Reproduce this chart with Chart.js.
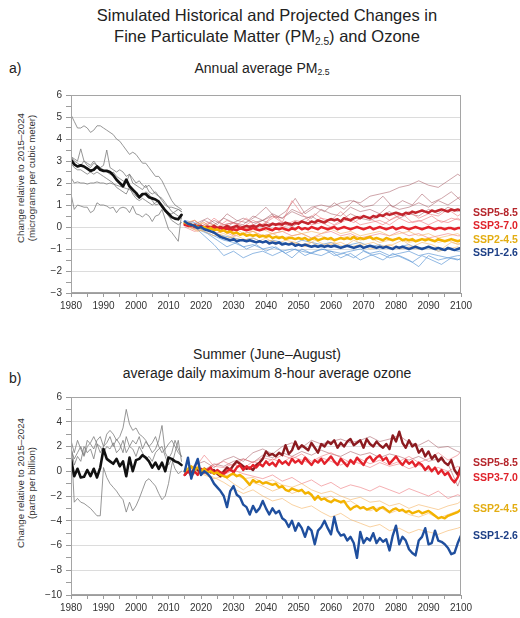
<!DOCTYPE html>
<html><head><meta charset="utf-8">
<script src="https://cdn.jsdelivr.net/npm/chart.js@4"></script>
<style>
body{margin:0;background:#fff;width:520px;height:618px;position:relative;overflow:hidden;font-family:"Liberation Sans",Arial,Helvetica,sans-serif;color:#222}
.t{position:absolute;white-space:nowrap}
.c{transform:translate(-50%,-50%);text-align:center}
.sub{font-size:0.62em;vertical-align:-0.28em;line-height:0}
.yt{position:absolute;white-space:nowrap;transform:translate(-50%,-50%) rotate(-90deg);text-align:center;font-size:9.7px;line-height:11px;color:#333}
.lab{position:absolute;font-weight:bold;font-size:10.5px;line-height:12px;transform:translateY(-50%);white-space:nowrap}
.panel{position:absolute;left:0;width:520px;height:231px}
</style></head><body>
<div class="t c" style="left:267px;top:26px;font-size:16.5px;line-height:21px">Simulated Historical and Projected Changes in<br>Fine Particulate Matter (PM<span class="sub">2.5</span>) and Ozone</div>
<div class="t" style="left:9px;top:59px;font-size:14px;line-height:18px">a)</div>
<div class="t c" style="left:262px;top:68px;font-size:14px;line-height:18px">Annual average PM<span class="sub">2.5</span></div>
<div class="yt" style="left:26px;top:178px">Change relative to 2015–2024<br>(micrograms per cubic meter)</div>
<div class="panel" style="top:85px"><canvas id="ca" width="520" height="231"></canvas></div>
<div class="t" style="left:9px;top:369px;font-size:14px;line-height:18px">b)</div>
<div class="t c" style="left:267px;top:364px;font-size:14px;line-height:19px">Summer (June–August)<br>average daily maximum 8-hour average ozone</div>
<div class="yt" style="left:26px;top:483px">Change relative to 2015–2024<br>(parts per billion)</div>
<div class="panel" style="top:387px"><canvas id="cb" width="520" height="231"></canvas></div>
<div class="lab" style="left:473px;top:212px;color:#b5262c">SSP5-8.5</div>
<div class="lab" style="left:473px;top:225px;color:#e0232b">SSP3-7.0</div>
<div class="lab" style="left:473px;top:239px;color:#e3ad12">SSP2-4.5</div>
<div class="lab" style="left:473px;top:252px;color:#1d3f86">SSP1-2.6</div>
<div class="lab" style="left:473px;top:462px;color:#b5262c">SSP5-8.5</div>
<div class="lab" style="left:473px;top:477px;color:#e0232b">SSP3-7.0</div>
<div class="lab" style="left:473px;top:508px;color:#e3ad12">SSP2-4.5</div>
<div class="lab" style="left:473px;top:535px;color:#1d3f86">SSP1-2.6</div>
<script>
// ---------- years ----------
const histYears = Array.from({length: 35}, (_, i) => 1980 + i);
const futYears = Array.from({length: 86}, (_, i) => 2015 + i);
const thinYears = [2015,2018,2021,2024,2027,2030,2033,2036,2039,2042,2045,2048,2051,2054,2057,2060,2063,2066,2069,2072,2075,2078,2081,2084,2087,2090,2093,2096,2099,2100];
const thinYears2 = [2016,2019,2022,2025,2028,2031,2034,2037,2040,2043,2046,2049,2052,2055,2058,2061,2064,2067,2070,2073,2076,2079,2082,2085,2088,2091,2094,2097,2100];

// ---------- panel a: PM2.5 ----------
const pmHistMean = [3.05,2.85,2.75,2.8,2.75,2.65,2.55,2.6,2.75,2.6,
  2.55,2.55,2.5,2.35,2.15,2.0,1.85,2.15,1.85,1.7,
  1.55,1.35,1.5,1.5,1.35,1.3,1.25,1.15,0.95,0.75,
  0.6,0.45,0.38,0.35,0.55];
const pmHist1 = [5.1,4.8,4.5,4.5,4.6,4.5,4.3,4.4,4.6,4.6,4.5,4.4,4.3,4.2,4.0,3.9,3.7,3.5,3.3,3.4,3.3,3.1,2.9,2.9,2.7,2.5,2.3,2.3,2.1,1.8,1.5,1.2,1.0,0.9,0.8];
const pmHist2 = [3.2,3.1,3.0,3.55,3.0,2.9,2.8,3.0,2.8,2.7,2.8,3.5,2.7,2.6,2.5,2.6,2.5,2.3,2.4,2.2,2.0,2.1,1.9,1.8,1.9,1.7,1.5,1.4,1.2,1.0,0.9,0.9,0.85,0.8,0.7];
const pmHist3 = [2.25,2.0,2.05,2.0,2.0,1.95,2.0,2.0,2.05,2.0,2.0,1.95,2.0,1.95,1.9,1.85,1.8,1.75,1.7,1.6,1.4,1.3,1.4,1.6,1.5,1.2,1.0,1.05,0.95,0.8,0.6,0.6,0.7,0.8,0.7];
const pmHist4 = [1.5,0.8,1.0,0.95,0.9,0.9,0.65,0.75,1.1,1.0,1.0,0.95,0.85,0.9,0.65,0.85,0.9,0.85,0.65,0.95,0.6,0.55,0.45,0.6,0.5,0.25,0.5,0.55,0.8,0.35,-0.1,-0.25,-0.45,-0.65,0.55];
const pmHist5 = [3.2,3.0,2.9,2.8,3.0,2.8,2.7,2.9,2.8,2.7,2.6,2.5,2.4,2.5,2.3,2.2,2.1,2.0,2.4,2.0,1.9,1.8,1.7,1.9,1.6,1.5,1.6,1.4,1.3,1.1,0.9,0.7,0.6,0.5,0.4];
const pmHist6 = [2.9,2.7,2.6,2.6,2.5,2.4,2.5,2.4,2.5,2.4,2.3,2.2,2.1,2.0,1.8,1.7,1.6,1.5,1.8,1.5,1.3,1.2,1.3,1.2,1.1,1.0,1.1,1.2,0.9,0.7,0.5,0.3,0.2,0.1,0.2];

const pmSSP126 = [0.25,0.15,0.1,0.05,-0.05,0.0,-0.1,-0.15,-0.2,-0.25,
  -0.35,-0.45,-0.5,-0.55,-0.6,-0.55,-0.65,-0.6,-0.6,-0.65,
  -0.6,-0.65,-0.7,-0.65,-0.7,-0.65,-0.75,-0.7,-0.75,-0.7,
  -0.8,-0.75,-0.8,-0.75,-0.85,-0.8,-0.85,-0.8,-0.85,-0.9,
  -0.85,-0.9,-0.85,-0.9,-0.85,-0.9,-0.85,-0.9,-0.95,-0.9,
  -0.85,-0.9,-0.95,-0.9,-0.85,-0.95,-0.9,-0.85,-0.9,-0.95,
  -0.9,-0.95,-0.9,-0.95,-1.0,-0.9,-0.95,-0.9,-0.95,-1.0,
  -0.95,-0.9,-0.95,-1.0,-0.95,-0.9,-0.95,-1.0,-0.95,-1.0,
  -1.05,-0.95,-1.0,-1.05,-1.0,-0.95];
const pmSSP245 = [0.2,0.15,0.1,0.05,0.0,-0.05,0.0,-0.1,-0.05,-0.15,
  -0.1,-0.2,-0.15,-0.25,-0.2,-0.3,-0.25,-0.35,-0.3,-0.4,
  -0.35,-0.4,-0.35,-0.45,-0.4,-0.45,-0.4,-0.5,-0.45,-0.5,
  -0.45,-0.55,-0.5,-0.5,-0.55,-0.5,-0.55,-0.5,-0.6,-0.55,
  -0.5,-0.6,-0.55,-0.5,-0.55,-0.5,-0.6,-0.55,-0.5,-0.55,
  -0.5,-0.55,-0.45,-0.55,-0.5,-0.55,-0.5,-0.45,-0.55,-0.5,
  -0.55,-0.6,-0.5,-0.55,-0.6,-0.55,-0.5,-0.6,-0.55,-0.6,
  -0.55,-0.65,-0.6,-0.55,-0.6,-0.55,-0.6,-0.65,-0.55,-0.6,
  -0.65,-0.6,-0.55,-0.6,-0.65,-0.6];
const pmSSP370 = [0.1,0.05,0.1,0.0,0.05,0.0,-0.05,0.0,-0.05,0.0,
  -0.1,-0.05,-0.1,-0.05,-0.15,-0.1,-0.15,-0.05,-0.1,-0.15,
  -0.1,-0.05,-0.1,-0.15,-0.1,-0.05,-0.1,-0.15,-0.05,-0.1,
  -0.05,-0.1,-0.15,-0.05,-0.1,0.0,-0.1,-0.05,-0.1,0.0,
  -0.05,-0.1,0.0,-0.05,-0.1,-0.05,0.0,-0.1,-0.05,0.0,
  -0.05,-0.1,-0.05,0.0,-0.05,-0.1,-0.05,0.0,-0.1,-0.05,
  0.0,-0.05,-0.1,-0.05,0.0,-0.1,-0.05,0.0,-0.05,-0.1,
  -0.05,0.0,-0.05,-0.1,-0.05,0.0,-0.05,-0.1,-0.05,-0.05,
  -0.1,-0.05,-0.05,-0.1,-0.05,-0.05];
const pmSSP585 = [0.15,0.1,0.05,0.1,0.0,0.05,-0.05,0.0,-0.05,0.05,
  -0.05,0.0,-0.05,0.05,-0.05,0.0,0.05,-0.05,0.0,0.05,
  0.0,0.05,0.0,0.1,0.05,0.1,0.05,0.15,0.1,0.15,
  0.1,0.2,0.15,0.1,0.2,0.15,0.25,0.2,0.15,0.25,
  0.2,0.3,0.25,0.2,0.3,0.35,0.3,0.35,0.25,0.4,
  0.35,0.3,0.4,0.45,0.4,0.5,0.45,0.4,0.5,0.45,
  0.55,0.5,0.6,0.55,0.6,0.65,0.6,0.55,0.65,0.6,
  0.7,0.65,0.7,0.75,0.7,0.65,0.75,0.7,0.75,0.8,
  0.75,0.7,0.8,0.75,0.8,0.75];

const pmThin126 = [
  [0.2,0.0,-0.4,-0.8,-1.3,-1.1,-1.4,-1.2,-1.1,-1.3,-1.1,-1.4,-1.0,-1.2,-1.3,-1.1,-1.4,-1.2,-1.5,-1.3,-1.2,-1.4,-1.3,-1.5,-1.8,-1.3,-1.5,-1.4,-1.5,-1.4],
  [0.2,0.1,-0.2,-0.4,-0.6,-0.7,-0.9,-0.8,-1.0,-0.9,-1.1,-1.0,-1.1,-1.2,-1.0,-1.1,-1.2,-1.1,-1.0,-1.2,-1.1,-1.3,-1.2,-1.1,-1.3,-1.2,-1.3,-1.4,-1.3,-1.3],
  [0.3,0.2,0.0,-0.3,-0.4,-0.5,-0.6,-0.5,-0.7,-0.6,-0.7,-0.8,-0.6,-0.7,-0.8,-0.7,-0.9,-0.8,-0.7,-0.9,-0.8,-1.0,-0.9,-0.8,-1.0,-0.9,-1.1,-1.0,-1.1,-1.1]];
const pmThin126b = [
  [0.1,-0.1,-0.3,-0.6,-0.9,-0.7,-1.0,-0.8,-1.1,-0.9,-1.2,-1.0,-1.3,-1.1,-1.0,-1.3,-1.2,-1.4,-1.1,-1.3,-1.5,-1.2,-1.4,-1.6,-1.3,-1.5,-1.7,-1.4,-1.5]];
const pmThin245 = [
  [0.2,0.1,0.2,-0.1,-0.2,0.0,-0.3,-0.2,-0.4,-0.3,-0.5,-0.4,-0.3,-0.5,-0.4,-0.6,-0.5,-0.4,-0.6,-0.5,-0.7,-0.6,-0.5,-0.7,-0.6,-0.5,-0.7,-0.6,-0.8,-0.7],
  [0.1,-0.1,-0.2,-0.4,-0.3,-0.5,-0.6,-0.5,-0.7,-0.6,-0.8,-0.7,-0.8,-0.7,-0.9,-0.8,-0.7,-0.9,-0.8,-1.0,-0.9,-0.8,-1.0,-0.9,-1.0,-0.9,-1.1,-1.0,-0.9,-1.0],
  [0.2,0.3,0.0,0.1,-0.1,-0.2,0.0,-0.2,-0.1,-0.3,-0.2,-0.1,-0.3,-0.2,-0.3,-0.1,-0.3,-0.2,-0.4,-0.3,-0.2,-0.4,-0.3,-0.2,-0.4,-0.3,-0.5,-0.4,-0.3,-0.4]];
const pmThin245b = [
  [0.0,-0.2,-0.1,-0.3,-0.5,-0.4,-0.6,-0.7,-0.5,-0.8,-0.6,-0.7,-0.9,-0.6,-0.8,-0.7,-0.9,-0.6,-0.8,-0.7,-0.9,-0.8,-0.6,-0.9,-0.7,-0.8,-1.0,-0.7,-0.8]];
const pmThin370 = [
  [0.1,0.3,0.0,0.4,0.1,0.2,0.0,0.3,0.1,0.5,0.2,1.2,0.6,0.2,0.4,0.3,0.7,0.3,0.5,0.4,0.6,0.3,0.5,0.7,0.4,0.6,0.5,0.8,0.5,0.6],
  [0.0,-0.2,-0.1,-0.3,-0.2,-0.4,-0.3,-0.2,-0.4,-0.3,-0.2,-0.4,-0.3,-0.5,-0.3,-0.2,-0.4,-0.3,-0.5,-0.4,-0.3,-0.4,-0.2,-0.4,-0.3,-0.5,-0.4,-0.3,-0.4,-0.4],
  [0.2,0.0,0.2,-0.1,0.1,0.0,-0.1,0.1,0.0,0.2,0.0,0.1,0.3,0.1,0.2,0.0,0.2,0.4,0.1,0.2,0.3,0.1,0.4,0.2,0.3,0.1,0.3,0.2,0.4,0.3]];
const pmThin370b = [
  [0.1,-0.1,0.2,0.0,0.3,0.1,0.4,0.0,0.2,0.5,0.1,0.3,0.2,0.6,0.3,0.1,0.4,0.2,0.5,0.3,0.1,0.4,0.6,0.2,0.3,0.5,0.2,0.4,0.3]];
const pmThin585 = [
  [0.1,0.3,0.0,0.3,0.1,0.2,0.4,0.2,0.3,0.5,0.4,0.8,0.6,0.9,1.0,0.9,1.1,1.2,1.1,1.4,1.5,1.6,1.8,1.9,2.1,1.9,1.8,2.1,2.4,2.3],
  [0.2,0.0,0.3,0.1,0.4,0.2,0.1,0.5,0.3,0.6,0.4,0.7,0.5,0.4,0.8,0.6,0.5,0.9,0.7,0.8,0.6,1.0,0.8,0.9,1.1,0.9,1.2,1.0,1.3,1.4],
  [0.1,-0.1,0.1,0.0,-0.1,0.2,0.0,0.1,0.3,0.1,0.2,0.0,0.3,0.5,0.2,0.4,0.3,0.6,0.4,0.3,0.5,0.7,0.4,0.6,0.5,0.8,0.6,0.9,0.7,0.8]];
const pmThin585b = [
  [0.0,0.2,0.4,0.1,0.6,0.3,0.2,0.5,0.9,0.4,0.7,1.3,0.6,0.9,0.7,1.1,0.8,1.2,0.9,1.0,1.4,0.9,1.2,1.0,1.5,1.1,1.3,1.6,1.2]];

// ---------- panel b: ozone ----------
const o3HistMean = [1.0,-0.4,0.2,-0.5,-0.45,0.1,-0.4,0.2,-0.5,0.3,
  1.8,1.0,0.8,0.6,1.0,0.4,0.8,-0.4,1.1,0.0,
  0.9,1.0,1.3,1.1,0.8,0.3,0.7,0.2,0.7,0.0,
  1.1,1.0,0.8,0.7,0.5];
const o3Hist1 = [2.5,1.5,2.5,1.8,1.2,2.0,2.3,2.8,2.2,1.5,2.0,3.0,3.3,3.0,2.5,2.8,3.5,5.0,3.8,3.3,3.5,3.0,2.8,2.5,2.0,2.3,2.8,2.0,1.5,1.8,2.2,2.5,2.0,1.5,1.2];
const o3Hist2 = [1.8,1.0,1.5,2.0,1.3,2.5,2.2,1.8,2.5,2.8,2.0,2.3,2.8,2.0,2.6,2.2,1.5,2.8,2.0,2.5,2.2,2.8,1.8,2.4,2.0,1.5,1.8,2.5,3.7,1.5,1.0,1.5,2.5,1.8,1.2];
const o3Hist3 = [2.0,0.5,1.2,0.8,2.0,1.5,1.8,1.0,2.2,2.0,1.5,2.0,1.8,2.3,1.5,1.8,2.5,1.5,2.0,1.8,1.2,2.0,1.5,1.0,1.2,0.8,1.5,1.8,2.0,1.2,0.5,1.0,0.2,-0.2,0.0];
const o3Hist4 = [2.5,-2.5,-2.2,-2.5,-2.6,-2.8,-3.0,-3.3,-3.6,-3.6,0.3,-0.5,-1.0,-1.3,-1.6,-2.0,-2.3,-3.3,-2.5,-3.2,-2.8,-2.2,-1.5,-0.8,-0.6,-0.9,-1.2,-1.8,-2.3,-2.0,-1.0,0.5,1.5,2.5,0.8];

const o3SSP126 = [0.0,1.1,-0.6,0.3,1.0,-0.3,0.0,-0.2,-0.5,-1.0,
  -1.3,-1.6,-2.0,-2.9,-1.6,-1.2,-1.9,-2.1,-2.7,-2.9,
  -3.5,-2.8,-3.3,-3.0,-2.4,-3.0,-3.5,-3.0,-3.4,-3.2,
  -3.8,-4.0,-4.5,-4.0,-4.8,-4.2,-4.6,-5.3,-4.5,-4.8,
  -5.9,-4.8,-4.5,-4.0,-4.6,-5.1,-3.7,-4.8,-5.2,-5.1,
  -5.6,-5.3,-5.8,-7.0,-4.9,-5.8,-5.4,-5.6,-5.0,-5.8,
  -5.4,-5.7,-5.5,-6.4,-5.2,-4.4,-5.9,-5.3,-5.6,-6.3,
  -6.6,-6.8,-5.6,-5.3,-4.6,-5.9,-5.8,-4.8,-5.6,-5.7,
  -5.9,-6.2,-6.7,-6.6,-5.8,-5.2];
const o3SSP245 = [0.0,0.2,0.4,0.1,0.3,0.0,0.2,-0.1,0.0,-0.2,
  -0.1,-0.3,-0.4,-0.5,-0.3,-0.2,-0.4,-0.3,-0.5,-0.8,
  -1.1,-0.7,-0.9,-0.8,-1.0,-0.9,-1.0,-1.1,-1.0,-1.3,
  -1.2,-1.5,-1.6,-1.4,-1.5,-1.6,-1.5,-1.8,-1.7,-1.9,
  -2.3,-2.0,-2.3,-2.2,-2.4,-2.5,-2.3,-2.4,-2.5,-2.4,
  -2.8,-3.1,-2.9,-2.8,-3.0,-2.9,-3.1,-3.0,-2.9,-3.2,
  -3.0,-2.9,-3.1,-3.3,-3.1,-3.0,-3.2,-3.1,-3.3,-3.2,
  -3.4,-3.3,-3.2,-3.4,-3.3,-3.2,-3.4,-3.6,-3.8,-3.7,
  -3.8,-3.6,-3.5,-3.4,-3.3,-3.1];
const o3SSP370 = [-0.3,0.1,-0.4,0.0,-0.3,0.2,-0.1,0.1,0.3,-0.2,
  0.1,-0.1,-0.2,0.0,0.2,-0.1,0.3,0.5,0.1,0.4,
  0.2,0.5,0.3,0.6,0.4,0.8,0.5,0.7,0.4,0.9,
  0.6,0.8,0.5,1.0,0.7,0.9,0.6,1.1,0.8,0.5,
  0.9,0.7,1.0,0.6,0.9,1.2,0.8,0.5,1.0,0.7,
  0.4,0.9,0.6,1.1,0.8,0.5,1.0,1.2,0.8,1.1,
  1.3,0.9,1.1,0.6,0.9,1.2,0.8,0.5,0.9,0.6,
  0.8,0.4,0.7,0.5,0.1,0.4,0.0,0.3,-0.2,0.1,
  -0.3,-0.1,-0.6,-0.9,-0.5,0.2];
const o3SSP585 = [-0.3,0.0,-0.2,0.3,0.1,-0.1,0.2,0.0,-0.1,0.1,
  -0.2,-0.4,0.0,0.3,0.1,0.5,0.8,0.6,0.4,0.2,
  0.3,0.1,0.5,0.7,1.0,1.6,1.3,1.4,1.2,1.5,
  1.3,2.1,1.4,1.7,2.4,1.8,2.1,1.9,1.7,2.3,
  1.9,1.5,2.2,2.0,2.4,2.2,2.5,1.9,2.3,2.0,
  2.4,2.6,2.1,2.3,2.5,1.9,2.6,2.2,2.0,2.4,
  2.1,1.9,2.2,1.8,2.9,2.4,3.2,2.3,1.9,2.5,
  2.0,2.2,1.5,1.8,1.2,1.6,1.0,1.3,0.8,1.1,
  0.7,0.5,0.9,0.1,-0.3,0.4];

const o3Thin245 = [
  [0.0,0.3,-0.2,-0.5,-0.9,-1.4,-1.8,-1.5,-2.0,-2.4,-2.2,-2.7,-3.0,-2.8,-3.3,-3.7,-3.4,-3.9,-4.2,-4.5,-4.3,-4.8,-4.6,-5.0,-4.7,-4.9,-5.1,-4.8,-4.6,-4.5],
  [0.1,-0.2,0.3,0.0,-0.4,-0.2,-0.6,-0.5,-0.9,-0.7,-1.1,-1.3,-1.0,-1.5,-1.8,-1.6,-2.0,-2.3,-2.1,-2.5,-2.4,-2.8,-2.6,-3.0,-2.7,-2.9,-3.1,-2.8,-2.6,-2.4],
  [-0.2,0.0,-0.3,-0.6,-0.4,-1.0,-1.5,-0.9,-1.2,-1.6,-1.3,-1.8,-1.5,-2.0,-2.3,-2.0,-2.6,-2.4,-2.9,-3.2,-2.9,-3.4,-3.1,-3.5,-3.7,-3.4,-3.8,-3.5,-3.2,-3.0]];
const o3Thin370 = [
  [-0.2,0.2,1.3,0.4,0.3,0.6,0.2,0.8,0.5,1.0,0.7,1.2,0.9,0.6,1.1,0.8,0.5,0.9,0.6,0.3,0.7,0.4,0.6,0.2,0.5,0.1,0.3,0.0,0.4,0.2],
  [0.1,-0.2,0.2,-0.1,-0.3,0.1,-0.2,-0.4,-0.6,-0.3,-0.8,-0.5,-1.0,-0.7,-1.2,-0.9,-1.4,-1.1,-1.3,-1.6,-1.2,-1.5,-1.8,-1.4,-1.7,-2.0,-1.6,-2.2,-1.9,-2.0],
  [0.0,0.4,0.1,0.5,0.8,0.4,1.0,0.7,1.1,0.9,1.3,1.0,1.4,0.8,1.2,1.5,1.1,0.7,1.0,0.6,0.9,0.5,0.8,1.2,0.7,1.0,1.5,0.9,1.3,1.6]];
const o3Thin585 = [
  [-0.3,0.5,0.8,0.3,0.9,1.2,0.8,1.5,1.8,1.4,2.0,2.3,1.9,2.5,2.2,2.4,2.6,2.3,2.5,2.8,2.4,2.6,2.9,2.3,2.1,2.5,1.9,2.0,1.6,1.5],
  [0.0,0.3,0.1,0.6,0.4,0.8,1.0,0.7,1.3,1.1,1.5,1.2,1.6,1.3,1.7,1.4,1.2,1.6,1.3,1.5,1.1,1.4,1.2,0.9,1.2,0.8,1.0,0.6,-1.2,-0.5]];

// ---------- colours ----------
const C = {
  hist: '#111111', histThin: 'rgba(125,125,125,0.8)',
  s126: '#1f4f9e', s126t: 'rgba(100,155,215,0.7)',
  s245: '#f3b300', s245t: 'rgba(245,180,100,0.6)',
  s370: '#e3222b', s370t: 'rgba(236,110,115,0.55)',
  s585a: '#c3262e', s585b: '#8c1b20', s585t: 'rgba(160,75,85,0.5)'
};

Chart.defaults.font.family = '"Liberation Sans", Arial, Helvetica, sans-serif';
const pts = (xs, ys) => xs.map((x, i) => ({x: x, y: ys[i]}));
const ln = (xs, ys, color, w, order) => ({data: pts(xs, ys), borderColor: color, borderWidth: w, order: order,
  pointRadius: 0, fill: false, tension: 0, borderJoinStyle: 'round', borderCapStyle: 'round'});

const frame = {id: 'frame', afterDraw(c) {
  const a = c.chartArea, x = c.ctx;
  x.save(); x.strokeStyle = '#a5a5a5'; x.lineWidth = 1;
  x.strokeRect(Math.round(a.left) + 0.5, Math.round(a.top) + 0.5, Math.round(a.right - a.left) - 1, Math.round(a.bottom - a.top) - 1);
  x.restore();
}};

const near = (v, m) => Math.abs(v / m - Math.round(v / m)) < 1e-6;
const fmt = v => (v < 0 ? '\u2212' + Math.abs(v) : String(v));

function build(id, datasets, ymin, ymax, ystep, major) {
  return new Chart(document.getElementById(id), {
    type: 'line',
    data: {datasets: datasets},
    options: {
      responsive: false, animation: false, events: [],
      layout: {padding: {top: 8, right: 59, bottom: 1, left: 0}},
      plugins: {legend: {display: false}, tooltip: {enabled: false}},
      scales: {
        x: {type: 'linear', min: 1980, max: 2100,
          afterFit: s => { s.height = 22; },
          ticks: {stepSize: 5, autoSkip: false, maxRotation: 0, padding: 3, color: '#333', font: {size: 10},
            callback: v => (v % 10 === 0 ? String(v) : '')},
          grid: {drawOnChartArea: false, tickLength: 4, tickColor: '#9c9c9c'},
          border: {color: '#9c9c9c'}},
        y: {type: 'linear', min: ymin, max: ymax,
          afterFit: s => { s.width = 71; },
          ticks: {stepSize: ystep, autoSkip: false, padding: 4, color: '#333', font: {size: 10},
            callback: v => (near(v, major) ? fmt(v) : '')},
          grid: {color: c => (c.tick && !near(c.tick.value, major) ? 'rgba(0,0,0,0)' : '#dcdcdc'),
            tickColor: '#9c9c9c', tickLength: 5},
          border: {color: '#9c9c9c'}}
      }
    },
    plugins: [frame]
  });
}

// panel a datasets
const dsA = [];
dsA.push(ln(futYears, pmSSP126, C.s126, 2.5, 0));
dsA.push(ln(futYears, pmSSP245, C.s245, 2.5, 1));
dsA.push(ln(futYears, pmSSP370, C.s370, 2.5, 2));
dsA.push(ln(futYears, pmSSP585, C.s585a, 2.5, 3));
dsA.push(ln(histYears, pmHistMean, C.hist, 2.7, 4));
pmThin245.forEach(a => dsA.push(ln(thinYears, a, C.s245t, 1, 6)));
pmThin245b.forEach(a => dsA.push(ln(thinYears2, a, C.s245t, 1, 6)));
pmThin126.forEach(a => dsA.push(ln(thinYears, a, C.s126t, 1, 7)));
pmThin126b.forEach(a => dsA.push(ln(thinYears2, a, C.s126t, 1, 7)));
pmThin370.forEach(a => dsA.push(ln(thinYears, a, C.s370t, 1, 8)));
pmThin370b.forEach(a => dsA.push(ln(thinYears2, a, C.s370t, 1, 8)));
pmThin585.forEach(a => dsA.push(ln(thinYears, a, C.s585t, 1, 9)));
pmThin585b.forEach(a => dsA.push(ln(thinYears2, a, C.s585t, 1, 9)));
[pmHist1, pmHist2, pmHist3, pmHist4, pmHist5, pmHist6].forEach(a => dsA.push(ln(histYears, a, C.histThin, 1, 10)));
build('ca', dsA, -3, 6, 0.5, 1);

// panel b datasets
const dsB = [];
dsB.push(ln(futYears, o3SSP126, C.s126, 2.4, 0));
dsB.push(ln(futYears, o3SSP245, C.s245, 2.4, 1));
dsB.push(ln(futYears, o3SSP370, C.s370, 2.4, 2));
dsB.push(ln(futYears, o3SSP585, C.s585b, 2.4, 3));
dsB.push(ln(histYears, o3HistMean, C.hist, 2.6, 4));
o3Thin245.forEach(a => dsB.push(ln(thinYears, a, C.s245t, 1, 6)));
o3Thin370.forEach(a => dsB.push(ln(thinYears, a, C.s370t, 1, 8)));
o3Thin585.forEach(a => dsB.push(ln(thinYears, a, C.s585t, 1, 9)));
[o3Hist1, o3Hist2, o3Hist3, o3Hist4].forEach(a => dsB.push(ln(histYears, a, C.histThin, 1, 10)));
build('cb', dsB, -10, 6, 1, 2);
</script>
</body></html>
